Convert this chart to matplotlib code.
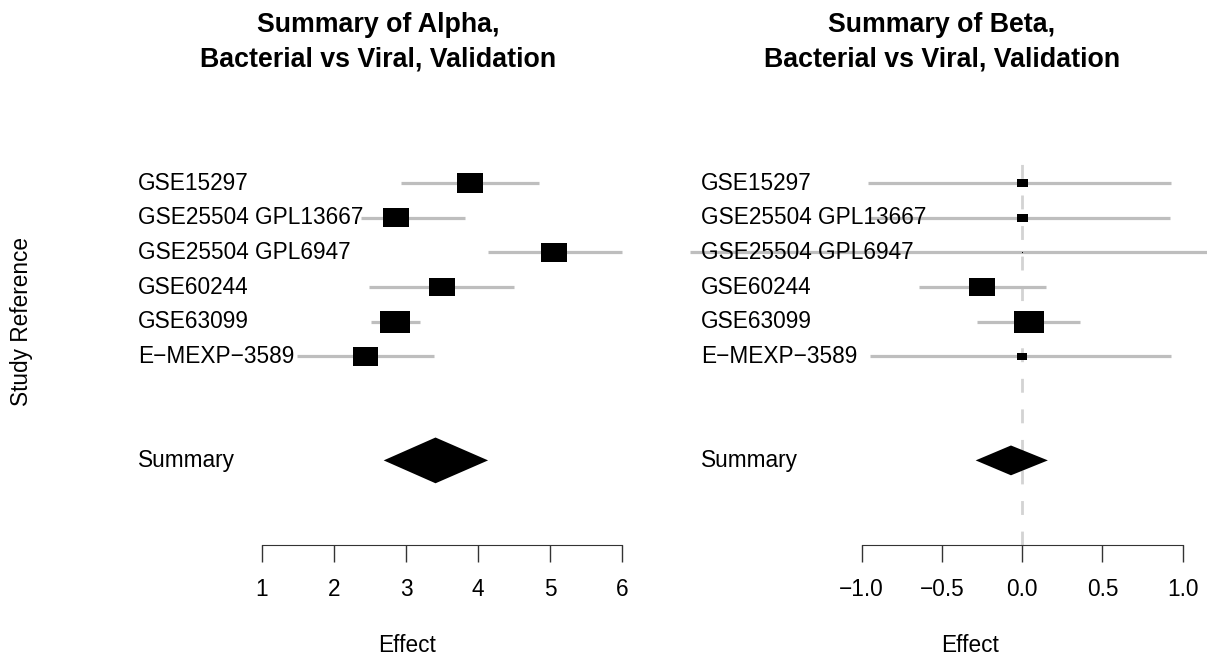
import numpy as np
import matplotlib; matplotlib.use("Agg")
import matplotlib.pyplot as plt
from matplotlib.path import Path
from matplotlib.patches import Polygon
from matplotlib.transforms import blended_transform_factory

plt.rcParams['font.family'] = ['Liberation Sans', 'DejaVu Sans']

studies = ["GSE15297", "GSE25504 GPL13667", "GSE25504 GPL6947",
           "GSE60244", "GSE63099", "E\u2212MEXP\u22123589"]

# alpha panel: estimate, lower, upper, relative box weight
alpha_est = [3.89, 2.86, 5.06, 3.50, 2.85, 2.44]
alpha_lo = [2.93, 2.38, 4.14, 2.49, 2.51, 1.49]
alpha_hi = [4.85, 3.82, 6.00, 4.50, 3.19, 3.39]
alpha_wt = [0.87, 0.87, 0.87, 0.84, 1.00, 0.85]
alpha_sum = (2.69, 3.41, 4.14)   # lower, estimate, upper

# beta panel
beta_est = [0.00, 0.00, 0.00, -0.25, 0.04, 0.00]
beta_lo = [-0.96, -0.96, -2.07, -0.64, -0.28, -0.95]
beta_hi = [0.93, 0.92, 2.00, 0.15, 0.36, 0.93]
beta_wt = [0.36, 0.36, 0.03, 0.84, 1.00, 0.35]
beta_sum = (-0.29, -0.07, 0.16)

W, H = 1207, 659
fig = plt.figure(figsize=(W / 100, H / 100), dpi=100)

# wide-ish rectangle marker for the study boxes
box = Path([(-1, -0.73), (1, -0.73), (1, 0.73), (-1, 0.73), (-1, -0.73)],
           [Path.MOVETO, Path.LINETO, Path.LINETO, Path.LINETO, Path.CLOSEPOLY])

FS = 16.3
GREY = "#BEBEBE"
sum_row = 8


def forest(ax, est, lo, hi, wt, summ, xlim, ticks, ticklabs, dia_h, label_x):
    rows = np.arange(len(est))
    for r, l, h in zip(rows, lo, hi):
        ax.plot([l, h], [r, r], color=GREY, lw=2.3, solid_capstyle="butt",
                clip_on=False, zorder=2)
    sizes = (30 * np.array(wt) * 0.72) ** 2
    ax.scatter(est, rows, s=sizes, marker=box, color="black", lw=0,
               zorder=3, clip_on=False)
    l, m, h = summ
    ax.add_patch(Polygon([(l, sum_row), (m, sum_row - dia_h), (h, sum_row),
                          (m, sum_row + dia_h)], closed=True, color="black",
                         lw=0, zorder=3, clip_on=False))
    tr = blended_transform_factory(fig.transFigure, ax.transData)
    for r, s in zip(rows, studies):
        ax.text(label_x / W, r, s, transform=tr, ha="left", va="center",
                fontsize=FS, zorder=4)
    ax.text(label_x / W, sum_row, "Summary", transform=tr, ha="left",
            va="center", fontsize=FS, zorder=4)
    ax.set_xlim(*xlim)
    ax.set_ylim(10.44, -0.66)
    for sp in ["top", "left", "right"]:
        ax.spines[sp].set_visible(False)
    ax.spines["bottom"].set_bounds(*xlim)
    ax.spines["bottom"].set_color("#333333")
    ax.set_yticks([])
    ax.set_xticks(ticks)
    ax.set_xticklabels(ticklabs, fontsize=FS)
    ax.tick_params(axis="x", length=12, width=1, color="#333333", pad=12)
    ax.patch.set_alpha(0)


axa = fig.add_axes([262 / W, 0.173, 360 / W, 0.584])
forest(axa, alpha_est, alpha_lo, alpha_hi, alpha_wt, alpha_sum, (1, 6),
       [1, 2, 3, 4, 5, 6], ["1", "2", "3", "4", "5", "6"], 0.66, 138)

axb = fig.add_axes([861.7 / W, 0.173, 321 / W, 0.584])
axb.axvline(0, color="#D3D3D3", lw=2, ls=(0, (5, 6)), zorder=1)
forest(axb, beta_est, beta_lo, beta_hi, beta_wt, beta_sum, (-1, 1),
       [-1, -0.5, 0, 0.5, 1], ["\u22121.0", "\u22120.5", "0.0", "0.5", "1.0"],
       0.43, 701)

fig.text(378.5 / W, 1 - 42 / H, "Summary of Alpha,\nBacterial vs Viral, Validation",
         ha="center", va="center", fontsize=19.3, fontweight="bold", linespacing=1.42)
fig.text(942 / W, 1 - 42 / H, "Summary of Beta,\nBacterial vs Viral, Validation",
         ha="center", va="center", fontsize=19.3, fontweight="bold", linespacing=1.42)
fig.text(407 / W, 1 - 646 / H, "Effect", ha="center", va="center", fontsize=FS)
fig.text(970 / W, 1 - 646 / H, "Effect", ha="center", va="center", fontsize=FS)
fig.text(22 / W, 1 - 321 / H, "Study Reference", rotation=90, ha="center",
         va="center", fontsize=FS)

fig.savefig("out.png", dpi=100)
